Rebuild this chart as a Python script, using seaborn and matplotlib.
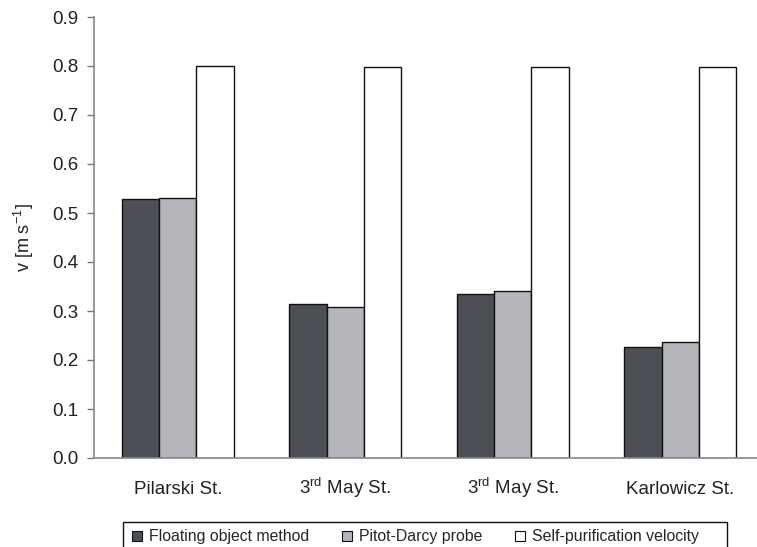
import numpy as np
import pandas as pd
import matplotlib
matplotlib.use("Agg")
import matplotlib.pyplot as plt
import seaborn as sns
from matplotlib.patches import Patch, Rectangle

# values
sites = ["Pilarski St.", "3$^{\\rm rd}$ May St.", "3$^{\\rm rd}$ May St.", "Karlowicz St."]
methods = ["Floating object method", "Pitot-Darcy probe", "Self-purification velocity"]
floating = [0.529, 0.314, 0.335, 0.226]
pitot = [0.531, 0.309, 0.341, 0.237]
self_purif = [0.800, 0.798, 0.798, 0.798]
colors = ["#4a5058", "#b3b5bc", "#ffffff"]

site_ids = [f"s{i}" for i in range(len(sites))]
df = pd.DataFrame({
    "site": site_ids * 3,
    "method": np.repeat(methods, len(sites)),
    "v": floating + pitot + self_purif,
})

sns.set_style("white")
plt.rcParams["font.family"] = ["Liberation Sans", "DejaVu Sans"]
plt.rcParams["mathtext.fontset"] = "custom"
plt.rcParams["mathtext.rm"] = "Liberation Sans"
plt.rcParams["mathtext.it"] = "Liberation Sans:italic"

fig = plt.figure(figsize=(7.57, 5.47), dpi=100)
ax = fig.add_axes([94 / 757, 89 / 547, 670 / 757, 441 / 547])

sns.barplot(data=df, x="site", y="v", hue="method", order=site_ids,
            hue_order=methods, palette=colors, width=0.67, gap=0,
            edgecolor="#111111", linewidth=1.0, ax=ax, legend=False)

ax.set_xlim(-0.5, len(sites) - 0.5)
ax.set_ylim(0, 0.9)
ax.set_yticks(np.arange(0, 0.91, 0.1))
ax.set_yticklabels([f"{t:.1f}" for t in np.arange(0, 0.91, 0.1)])
ax.set_xticks(range(len(sites)))
ax.set_xticklabels(sites)
ax.set_xticks(np.arange(-0.5, len(sites), 1.0), minor=True)
ax.tick_params(axis="x", which="major", length=0, pad=26, labelsize=13.5, colors="#222222")
ax.tick_params(axis="x", which="minor", length=5, width=1, color="#777777", direction="out")
ax.tick_params(axis="y", length=5, width=1, color="#777777", direction="out",
               pad=6, labelsize=13.5, labelcolor="#222222", left=True)
for lab in ax.get_xticklabels():
    lab.set_va("baseline")
ax.set_xlabel("")
ax.set_ylabel("v [m s$^{-1}$]", fontsize=13, color="#222222", labelpad=12)

for side in ["top", "right"]:
    ax.spines[side].set_visible(False)
for side in ["left", "bottom"]:
    ax.spines[side].set_color("#888888")
    ax.spines[side].set_linewidth(1.2)

handles = [Patch(facecolor=c, edgecolor="#111111", linewidth=0.8) for c in colors]
fig.legend(handles, methods, loc="center left", frameon=False,
           bbox_to_anchor=(132 / 757, 1 - 537 / 547), ncol=3, fontsize=11.4,
           handlelength=0.6, handleheight=0.6, handletextpad=0.45,
           columnspacing=2.1, borderaxespad=0, borderpad=0)
fig.add_artist(Rectangle((123 / 757, -0.02), 604 / 757, 25 / 547 + 0.02,
                         transform=fig.transFigure, fill=False,
                         edgecolor="#111111", linewidth=1.0))

fig.savefig("out.png", dpi=100)
